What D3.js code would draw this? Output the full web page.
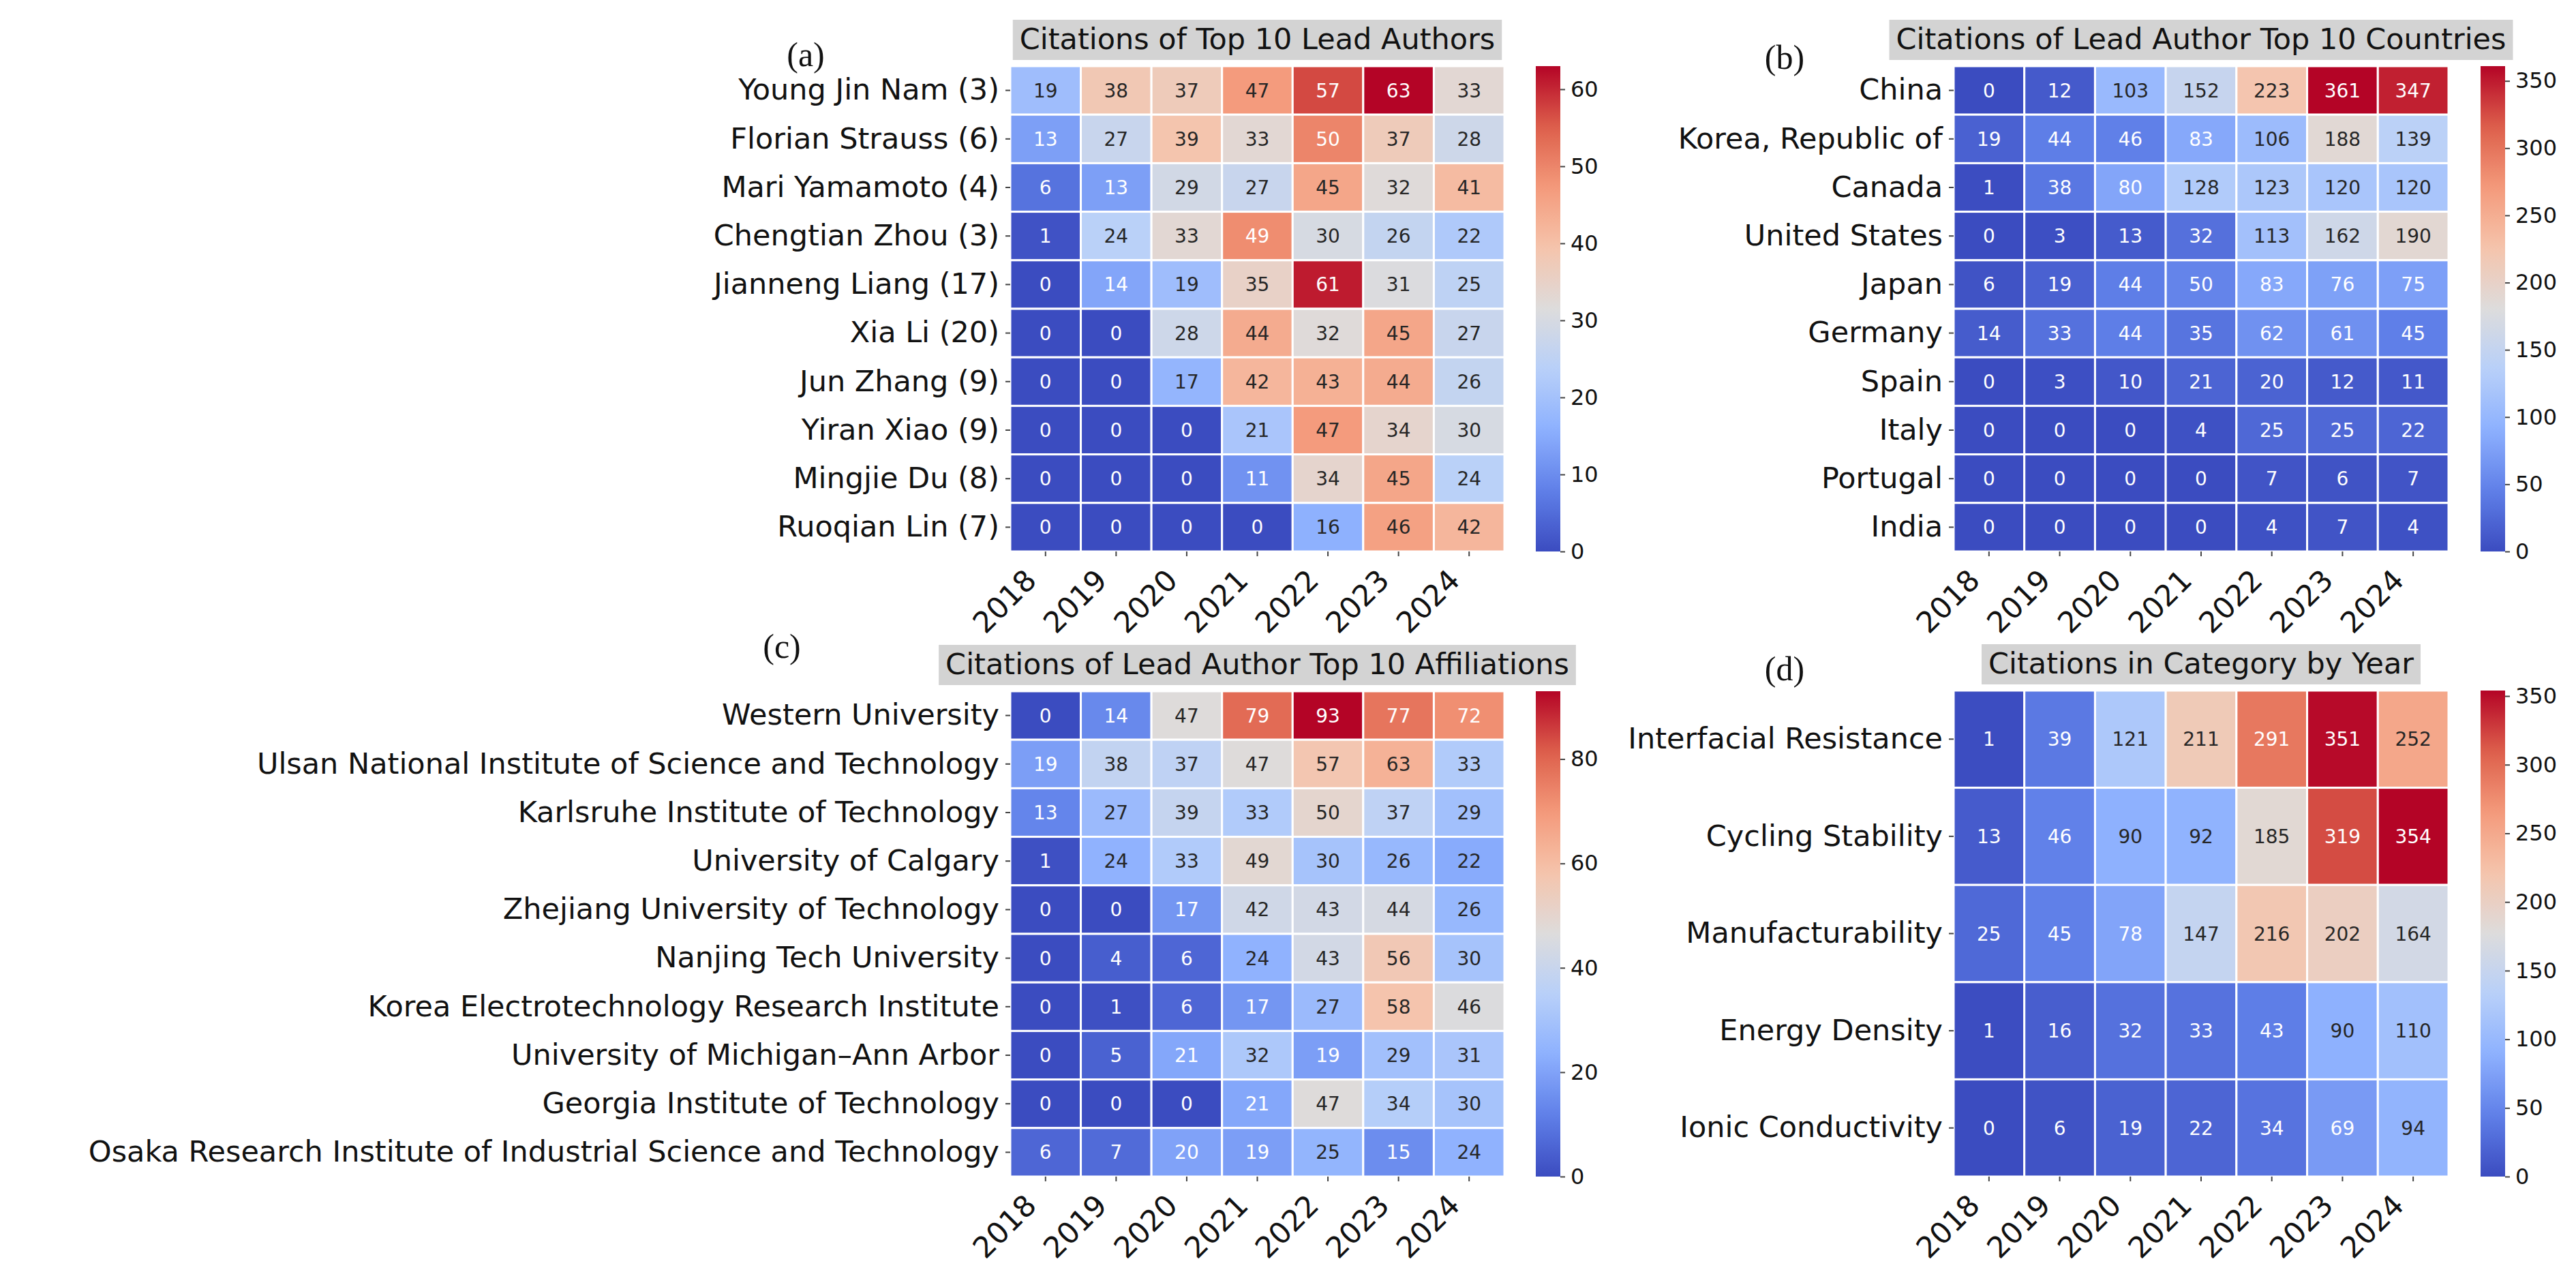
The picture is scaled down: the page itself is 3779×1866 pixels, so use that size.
<!DOCTYPE html>
<html>
<head>
<meta charset="utf-8">
<script src="https://cdn.jsdelivr.net/npm/d3@7"></script>
<style>
  body { margin: 0; background: #fff; }
</style>
</head>
<body>
<div id="chart"></div>
<script>
// ---- data ----
const years = ["2018", "2019", "2020", "2021", "2022", "2023", "2024"];

const authors = ["Young Jin Nam (3)", "Florian Strauss (6)", "Mari Yamamoto (4)", "Chengtian Zhou (3)",
  "Jianneng Liang (17)", "Xia Li (20)", "Jun Zhang (9)", "Yiran Xiao (9)", "Mingjie Du (8)", "Ruoqian Lin (7)"];
const authorCitations = [
  [19, 38, 37, 47, 57, 63, 33],
  [13, 27, 39, 33, 50, 37, 28],
  [6, 13, 29, 27, 45, 32, 41],
  [1, 24, 33, 49, 30, 26, 22],
  [0, 14, 19, 35, 61, 31, 25],
  [0, 0, 28, 44, 32, 45, 27],
  [0, 0, 17, 42, 43, 44, 26],
  [0, 0, 0, 21, 47, 34, 30],
  [0, 0, 0, 11, 34, 45, 24],
  [0, 0, 0, 0, 16, 46, 42]
];
const authorTicks = [0, 10, 20, 30, 40, 50, 60];

const countries = ["China", "Korea, Republic of", "Canada", "United States", "Japan",
  "Germany", "Spain", "Italy", "Portugal", "India"];
const countryCitations = [
  [0, 12, 103, 152, 223, 361, 347],
  [19, 44, 46, 83, 106, 188, 139],
  [1, 38, 80, 128, 123, 120, 120],
  [0, 3, 13, 32, 113, 162, 190],
  [6, 19, 44, 50, 83, 76, 75],
  [14, 33, 44, 35, 62, 61, 45],
  [0, 3, 10, 21, 20, 12, 11],
  [0, 0, 0, 4, 25, 25, 22],
  [0, 0, 0, 0, 7, 6, 7],
  [0, 0, 0, 0, 4, 7, 4]
];
const countryTicks = [0, 50, 100, 150, 200, 250, 300, 350];

const affiliations = ["Western University", "Ulsan National Institute of Science and Technology",
  "Karlsruhe Institute of Technology", "University of Calgary", "Zhejiang University of Technology",
  "Nanjing Tech University", "Korea Electrotechnology Research Institute", "University of Michigan\u2013Ann Arbor",
  "Georgia Institute of Technology", "Osaka Research Institute of Industrial Science and Technology"];
const affiliationCitations = [
  [0, 14, 47, 79, 93, 77, 72],
  [19, 38, 37, 47, 57, 63, 33],
  [13, 27, 39, 33, 50, 37, 29],
  [1, 24, 33, 49, 30, 26, 22],
  [0, 0, 17, 42, 43, 44, 26],
  [0, 4, 6, 24, 43, 56, 30],
  [0, 1, 6, 17, 27, 58, 46],
  [0, 5, 21, 32, 19, 29, 31],
  [0, 0, 0, 21, 47, 34, 30],
  [6, 7, 20, 19, 25, 15, 24]
];
const affiliationTicks = [0, 20, 40, 60, 80];

const categories = ["Interfacial Resistance", "Cycling Stability", "Manufacturability",
  "Energy Density", "Ionic Conductivity"];
const categoryCitations = [
  [1, 39, 121, 211, 291, 351, 252],
  [13, 46, 90, 92, 185, 319, 354],
  [25, 45, 78, 147, 216, 202, 164],
  [1, 16, 32, 33, 43, 90, 110],
  [0, 6, 19, 22, 34, 69, 94]
];
const categoryTicks = [0, 50, 100, 150, 200, 250, 300, 350];

// ---- page ----
const svg = d3.select("#chart")
  .append("svg")
    .attr("width", 3779)
    .attr("height", 1866)
    .style("background", "#fff");

// matplotlib "coolwarm" approximated by a piecewise ramp
const coolwarm = d3.piecewise(d3.interpolateRgb,
  ["#3b4cc0", "#5f7fe8", "#8db0fe", "#b8d0f9", "#dddcdc", "#f5c4ac", "#f49a7b", "#dd5f4b", "#b40426"]);

// seaborn picks the annotation colour from the cell luminance
function luminance(c) {
  const rgb = d3.rgb(c);
  const f = v => { v /= 255; return v <= 0.03928 ? v / 12.92 : Math.pow((v + 0.055) / 1.055, 2.4); };
  return 0.2126 * f(rgb.r) + 0.7152 * f(rgb.g) + 0.0722 * f(rgb.b);
}

const FONT = "'DejaVu Sans', sans-serif";

function heatmap(p) {
  const g = svg.append("g");
  const bottom = p.top + p.height;

  const x = d3.scaleBand().domain(years).range([p.left, p.left + p.width]);
  const y = d3.scaleBand().domain(p.rows).range([p.top, bottom]);
  const vmax = d3.max(p.values.flat());
  const color = d3.scaleSequential(coolwarm).domain([0, vmax]);

  const cells = p.rows.flatMap((r, i) => years.map((yr, j) => ({row: r, year: yr, v: p.values[i][j]})));

  g.selectAll("rect.cell")
    .data(cells)
    .join("rect")
      .attr("class", "cell")
      .attr("x", d => x(d.year))
      .attr("y", d => y(d.row))
      .attr("width", x.bandwidth())
      .attr("height", y.bandwidth())
      .attr("fill", d => color(d.v))
      .attr("stroke", "#fff")
      .attr("stroke-width", 3);

  g.selectAll("text.annot")
    .data(cells)
    .join("text")
      .attr("class", "annot")
      .attr("x", d => x(d.year) + x.bandwidth() / 2)
      .attr("y", d => y(d.row) + y.bandwidth() / 2)
      .attr("dy", "0.36em")
      .attr("text-anchor", "middle")
      .style("font-family", FONT)
      .style("font-size", "28px")
      .style("fill", d => luminance(color(d.v)) > 0.408 ? "#262626" : "#ffffff")
      .text(d => d.v);

  // y axis
  g.append("g")
    .attr("transform", `translate(${p.left},0)`)
    .call(d3.axisLeft(y).tickSize(7).tickPadding(9))
    .call(a => a.select(".domain").remove())
    .call(a => a.selectAll("line").attr("stroke", "#444").attr("stroke-width", 2))
    .call(a => a.selectAll("text")
      .style("font-family", FONT)
      .style("font-size", "43px")
      .style("fill", "#111"));

  // x axis, labels at 45 degrees
  g.append("g")
    .attr("transform", `translate(0,${bottom})`)
    .call(d3.axisBottom(x).tickSize(7))
    .call(a => a.select(".domain").remove())
    .call(a => a.selectAll("line").attr("stroke", "#444").attr("stroke-width", 2))
    .call(a => a.selectAll("text")
      .attr("x", -11)
      .attr("y", 45)
      .attr("dy", 0)
      .attr("text-anchor", "end")
      .attr("transform", "rotate(-45,-11,45)")
      .style("font-family", FONT)
      .style("font-size", "43px")
      .style("fill", "#111"));

  // title with grey box
  const cx = p.left + p.width / 2;
  const boxTop = p.top - 68;
  const title = g.append("text")
    .attr("x", cx)
    .attr("y", boxTop + 43)
    .attr("text-anchor", "middle")
    .style("font-family", FONT)
    .style("font-size", "43px")
    .style("fill", "#111")
    .text(p.title);
  const tw = title.node().getComputedTextLength() + 20;
  g.insert("rect", () => title.node())
    .attr("x", cx - tw / 2)
    .attr("y", boxTop)
    .attr("width", tw)
    .attr("height", 59)
    .attr("fill", "#d3d3d3");

  // colour bar
  const gradId = "grad-" + p.id;
  const grad = svg.append("defs").append("linearGradient")
    .attr("id", gradId)
    .attr("x1", 0).attr("y1", 1).attr("x2", 0).attr("y2", 0);
  grad.selectAll("stop")
    .data(d3.range(0, 1.0001, 0.02))
    .join("stop")
      .attr("offset", d => d)
      .attr("stop-color", d => coolwarm(d));

  g.append("rect")
    .attr("x", p.cbLeft)
    .attr("y", p.top)
    .attr("width", 36)
    .attr("height", p.height)
    .attr("fill", `url(#${gradId})`);

  const cbScale = d3.scaleLinear().domain([0, vmax]).range([bottom, p.top]);
  g.append("g")
    .attr("transform", `translate(${p.cbLeft + 36},0)`)
    .call(d3.axisRight(cbScale).tickValues(p.ticks).tickSize(7).tickPadding(8))
    .call(a => a.select(".domain").remove())
    .call(a => a.selectAll("line").attr("stroke", "#444").attr("stroke-width", 2))
    .call(a => a.selectAll("text")
      .style("font-family", FONT)
      .style("font-size", "32px")
      .style("fill", "#111"));

  // panel letter
  svg.append("text")
    .attr("x", p.labelX)
    .attr("y", p.labelY)
    .attr("text-anchor", "middle")
    .style("font-family", "'Liberation Serif', 'Times New Roman', serif")
    .style("font-size", "50px")
    .style("fill", "#111")
    .text(p.label);
}

heatmap({id: "a", label: "(a)", labelX: 1182, labelY: 97, title: "Citations of Top 10 Lead Authors",
  rows: authors, values: authorCitations, ticks: authorTicks,
  left: 1482, top: 97, width: 725, height: 712, cbLeft: 2253});

heatmap({id: "b", label: "(b)", labelX: 2618, labelY: 101, title: "Citations of Lead Author Top 10 Countries",
  rows: countries, values: countryCitations, ticks: countryTicks,
  left: 2866, top: 97, width: 726, height: 712, cbLeft: 3639});

heatmap({id: "c", label: "(c)", labelX: 1147, labelY: 965, title: "Citations of Lead Author Top 10 Affiliations",
  rows: affiliations, values: affiliationCitations, ticks: affiliationTicks,
  left: 1482, top: 1014, width: 725, height: 712, cbLeft: 2253});

heatmap({id: "d", label: "(d)", labelX: 2618, labelY: 998, title: "Citations in Category by Year",
  rows: categories, values: categoryCitations, ticks: categoryTicks,
  left: 2866, top: 1013, width: 726, height: 713, cbLeft: 3639});
</script>
</body>
</html>
